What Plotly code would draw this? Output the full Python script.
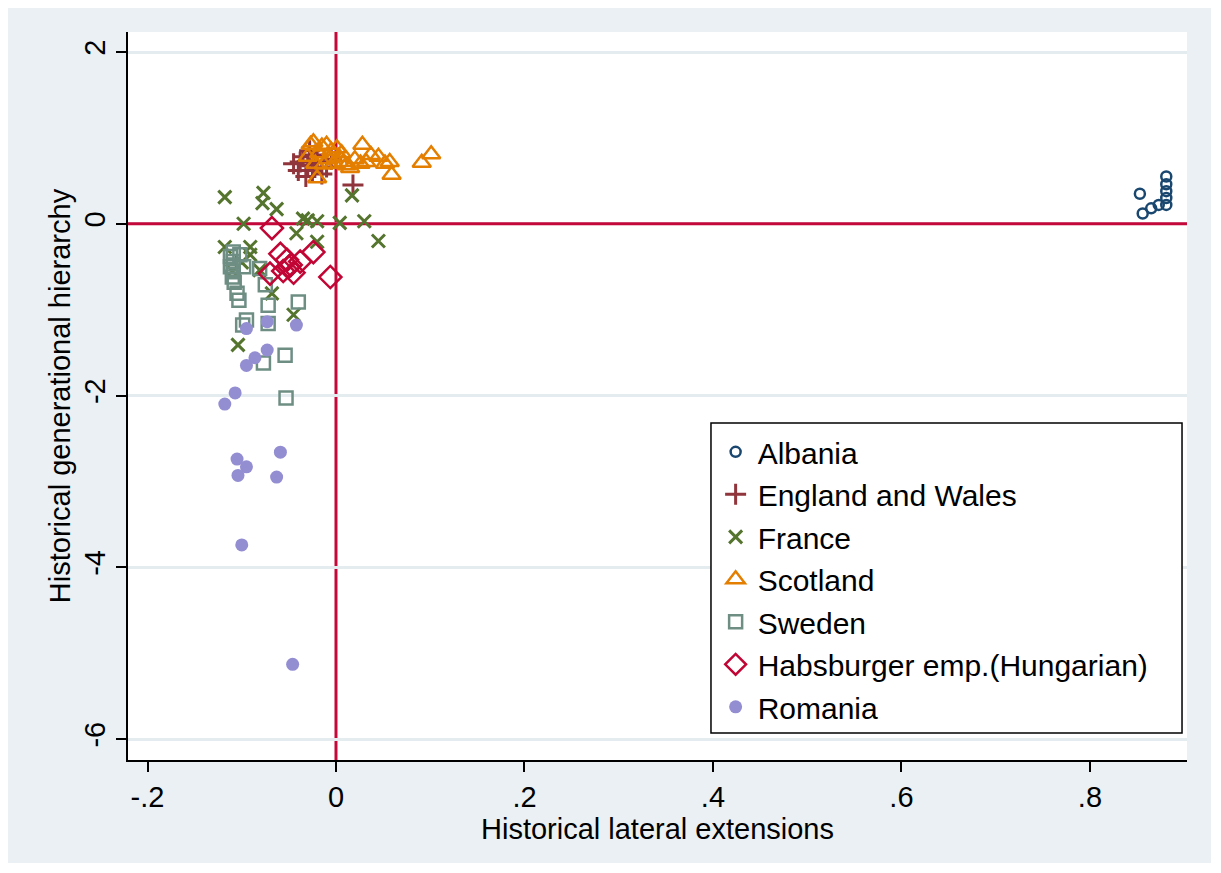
import plotly.graph_objects as go

# ---------------- data ----------------
albania_x = [0.853, 0.856, 0.865, 0.873, 0.881, 0.881, 0.881, 0.881, 0.881]
albania_y = [0.35, 0.12, 0.18, 0.22, 0.55, 0.46, 0.38, 0.30, 0.22]

england_x = [-0.045, -0.040, -0.035, -0.032, -0.030, -0.028, -0.025, -0.020, -0.015, -0.010, -0.005, 0.018, -0.038, -0.022]
england_y = [0.70, 0.62, 0.78, 0.55, 0.68, 0.85, 0.62, 0.72, 0.58, 0.66, 0.75, 0.45, 0.72, 0.80]

france_x = [-0.118, -0.077, -0.078, -0.063, -0.098, -0.035, -0.030, -0.020, 0.004, 0.030, 0.017, 0.045,
            -0.042, -0.020, -0.118, -0.091, -0.091, -0.081, -0.068, -0.045, -0.104, -0.100, -0.110]
france_y = [0.31, 0.36, 0.24, 0.17, 0.00, 0.06, 0.04, 0.03, 0.01, 0.03, 0.33, -0.20,
            -0.11, -0.21, -0.27, -0.27, -0.36, -0.54, -0.81, -1.06, -1.41, -0.45, -0.55]

scotland_x = [-0.030, -0.027, -0.024, -0.022, -0.020, -0.018, -0.015, -0.013, -0.010, -0.008, -0.005, -0.002,
              0.001, 0.003, 0.006, 0.008, 0.011, 0.015, 0.020, 0.026, 0.028, 0.032, 0.037, 0.045, 0.052,
              0.057, 0.059, 0.091, 0.101]
scotland_y = [0.78, 0.92, 0.95, 0.70, 0.53, 0.82, 0.90, 0.69, 0.92, 0.75, 0.85, 0.70,
              0.88, 0.78, 0.82, 0.72, 0.68, 0.65, 0.75, 0.70, 0.92, 0.72, 0.80, 0.78, 0.70,
              0.72, 0.57, 0.71, 0.81]

sweden_x = [-0.109, -0.112, -0.109, -0.112, -0.109, -0.110, -0.108, -0.105, -0.103, -0.102, -0.098,
            -0.081, -0.075, -0.072, -0.040, -0.095, -0.099, -0.072, -0.054, -0.077, -0.053]
sweden_y = [-0.33, -0.38, -0.44, -0.50, -0.56, -0.62, -0.68, -0.81, -0.89, -0.36, -0.50,
            -0.52, -0.71, -0.95, -0.91, -1.12, -1.18, -1.16, -1.53, -1.62, -2.03]

habsburg_x = [-0.068, -0.059, -0.052, -0.048, -0.038, -0.024, -0.070, -0.056, -0.045, -0.006, -0.050]
habsburg_y = [-0.05, -0.35, -0.42, -0.48, -0.44, -0.33, -0.58, -0.55, -0.57, -0.62, -0.50]

romania_x = [-0.095, -0.073, -0.042, -0.073, -0.086, -0.095, -0.107, -0.118, -0.105, -0.095, -0.104,
             -0.059, -0.063, -0.100, -0.046]
romania_y = [-1.22, -1.14, -1.18, -1.47, -1.56, -1.65, -1.97, -2.10, -2.74, -2.83, -2.93,
             -2.66, -2.95, -3.74, -5.13]

x_ticks = [-0.2, 0, 0.2, 0.4, 0.6, 0.8]
x_ticktext = ['-.2', '0', '.2', '.4', '.6', '.8']
y_ticks = [-6, -4, -2, 0, 2]
y_ticktext = ['-6', '-4', '-2', '0', '2']

# ---------------- figure ----------------
FONT = "Liberation Sans, Arial, sans-serif"
BG = "#EAF0F3"
GRID = "#E4ECEF"
RED = "#C4093A"

series = [
    ("Albania", albania_x, albania_y, "circle-open", "#1a476f", 10, 2.5),
    ("England and Wales", england_x, england_y, "cross-thin-open", "#90353b", 15, 3),
    ("France", france_x, france_y, "x-thin-open", "#55752f", 13, 3),
    ("Scotland", scotland_x, scotland_y, "triangle-up-open", "#e37e00", 16, 2.5),
    ("Sweden", sweden_x, sweden_y, "square-open", "#6e8e84", 13, 2.5),
    ("Habsburger emp.(Hungarian)", habsburg_x, habsburg_y, "diamond-open", "#c10534", 17, 2.5),
    ("Romania", romania_x, romania_y, "circle", "#938dd2", 13, 0),
]

fig = go.Figure()
for i, (name, xs, ys, sym, col, size, lw) in enumerate(series):
    fig.add_trace(go.Scatter(
        x=xs, y=ys, mode="markers", name=name, legendgroup=f"g{i}",
        marker=dict(symbol=sym, color=col, size=size,
                    line=dict(color=col, width=lw)),
    ))

W, H = 1203, 855
fig.update_layout(
    width=W, height=H,
    margin=dict(l=120, r=24, t=24, b=103),
    paper_bgcolor=BG, plot_bgcolor="white",
    font=dict(family=FONT, size=29, color="black"),
    showlegend=True,
    legend=dict(
        x=0.553, y=0.459, xanchor="left", yanchor="top",
        bgcolor="rgba(0,0,0,0)", borderwidth=0,
        font=dict(family=FONT, size=30, color="black"),
        itemsizing="trace", itemwidth=34, tracegroupgap=0.5,
    ),
    xaxis=dict(
        range=[-0.2207, 0.903], tickvals=x_ticks, ticktext=x_ticktext,
        showgrid=False, zeroline=False,
        showline=True, linecolor="black", linewidth=1.5,
        ticks="outside", ticklen=10, tickwidth=1.5, tickcolor="black",
        title=dict(text="Historical lateral extensions", standoff=0,
                   font=dict(family=FONT, size=29)),
        tickfont=dict(family=FONT, size=29),
    ),
    yaxis=dict(
        range=[-6.244, 2.233], tickvals=y_ticks, ticktext=y_ticktext,
        tickangle=-90,
        showgrid=True, gridcolor=GRID, gridwidth=2.5, zeroline=False,
        showline=True, linecolor="black", linewidth=1.5,
        ticks="outside", ticklen=10, tickwidth=1.5, tickcolor="black",
        title=dict(text="Historical generational hierarchy", standoff=0,
                   font=dict(family=FONT, size=29)),
        tickfont=dict(family=FONT, size=29),
    ),
    shapes=[
        dict(type="line", xref="x", yref="paper", x0=0, x1=0, y0=0, y1=1,
             line=dict(color=RED, width=3), layer="between"),
        dict(type="line", xref="x", yref="y", x0=-0.2207, x1=0.903, y0=0, y1=0,
             line=dict(color=RED, width=3), layer="between"),
        dict(type="rect", xref="paper", yref="paper", x0=0.5505, x1=0.9953, y0=0.0371, y1=0.4629,
             fillcolor="white", line=dict(color="black", width=1.5), layer="above"),
    ],
)

fig.write_html("out.html")
